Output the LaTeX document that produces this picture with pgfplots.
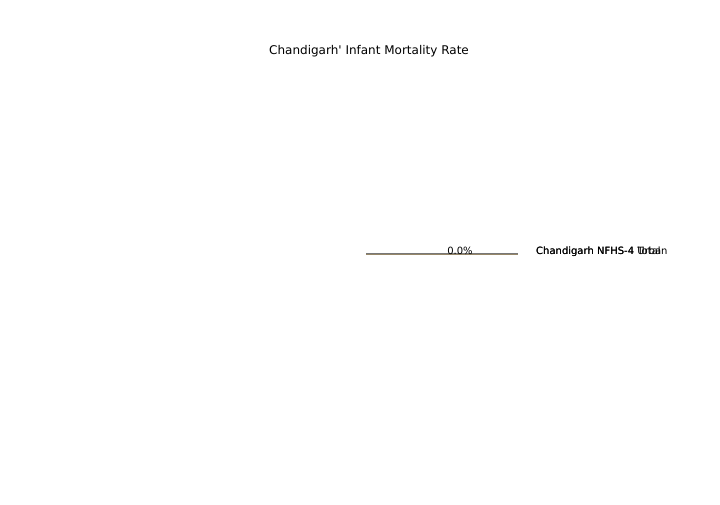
\documentclass[border=0pt]{standalone}
\usepackage{pgfplots}
\pgfplotsset{compat=1.18}
\usepackage{fontspec}
\setmainfont{DejaVu Sans}
\newfontfamily\plainfont{DejaVu Sans}
\definecolor{lineA}{RGB}{120,120,120}
\definecolor{lineB}{RGB}{150,135,105}
\begin{document}
\begin{tikzpicture}
\path[use as bounding box] (0,0) rectangle (720pt,504pt);
\begin{axis}[
  at={(0,0)}, anchor=south west,
  scale only axis, width=720pt, height=504pt,
  xmin=0, xmax=720, ymin=0, ymax=504, y dir=reverse,
  hide axis, clip=false]
\addplot[lineB, line width=1pt, forget plot] coordinates {(366,254) (518,254)};
\addplot[lineA, line width=1pt, forget plot] coordinates {(366,253) (518,253)};
\node[font=\fontsize{10pt}{12pt}\selectfont, anchor=base] at (axis cs:460,254) {0.0\%};
\node[font=\fontsize{10pt}{12pt}\selectfont, anchor=base west, inner sep=0pt] at (axis cs:536,254) {Chandigarh NFHS-4 Total};
\node[font=\fontsize{10pt}{12pt}\selectfont, anchor=base west, inner sep=0pt] at (axis cs:536,254) {Chandigarh NFHS-4 Urban};
\node[font=\plainfont\fontsize{12pt}{14pt}\selectfont, anchor=base] at (axis cs:369,54.5) {Chandigarh' Infant Mortality Rate};
\end{axis}
\end{tikzpicture}
\end{document}
